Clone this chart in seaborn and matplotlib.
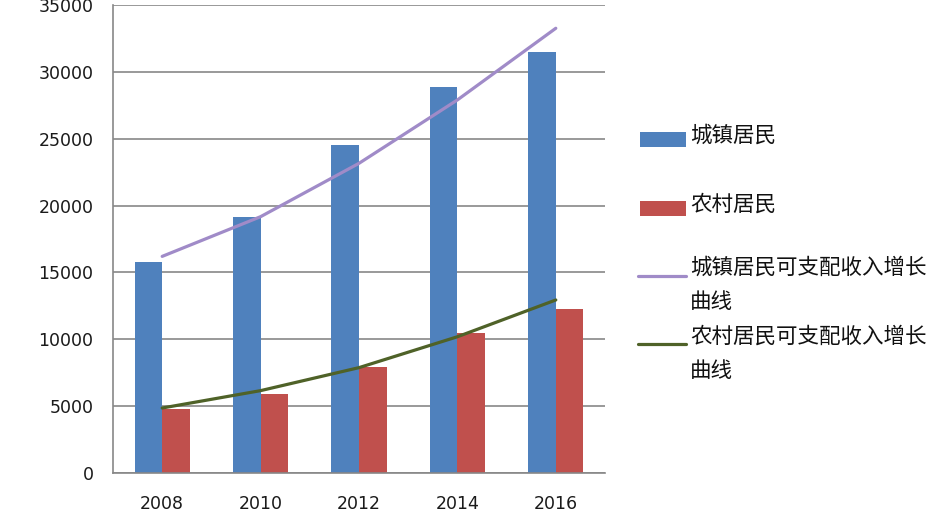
import matplotlib
matplotlib.use("Agg")
import matplotlib.pyplot as plt
import seaborn as sns
import pandas as pd
import numpy as np
from matplotlib.patches import Rectangle
from matplotlib.lines import Line2D

years = ['2008', '2010', '2012', '2014', '2016']
urban = [15781, 19109, 24565, 28844, 31500]
rural = [4761, 5919, 7917, 10489, 12300]
urban_trend = [16200, 19170, 23160, 27900, 33260]
rural_trend = [4860, 6160, 7880, 10190, 12940]
series_names = ['城镇居民', '农村居民']
trend_names = ['城镇居民可支配收入增长\n曲线', '农村居民可支配收入增长\n曲线']
yticks = [0, 5000, 10000, 15000, 20000, 25000, 30000, 35000]

bar_colors = ['#4F81BD', '#C0504D']
line_colors = ['#A08BC8', '#4F6228']

sns.set_style("white")
plt.rcParams['font.family'] = ['DejaVu Sans', 'Noto Sans CJK SC']

df = pd.DataFrame({
    'year': years * 2,
    'value': urban + rural,
    'series': [series_names[0]] * len(years) + [series_names[1]] * len(years),
})

W, H = 926, 515
fig = plt.figure(figsize=(W / 100, H / 100), dpi=100)
ax = fig.add_axes([113 / W, 1 - 473 / H, (605 - 113) / W, (473 - 5) / H])

sns.barplot(data=df, x='year', y='value', hue='series', order=years,
            hue_order=series_names, palette=bar_colors, width=0.56,
            gap=0, ax=ax, legend=False, saturation=1, linewidth=0)

xs = np.arange(len(years))
sns.lineplot(x=xs, y=urban_trend, color=line_colors[0], lw=2.3, ax=ax)
sns.lineplot(x=xs, y=rural_trend, color=line_colors[1], lw=2.3, ax=ax)

ax.set_xlim(-0.5, len(years) - 0.5)
ax.set_ylim(0, 35000)
ax.set_yticks(yticks)
ax.set_yticklabels([str(v) for v in yticks])
ax.set_xlabel('')
ax.set_ylabel('')

ax.yaxis.grid(True, color='#878787', lw=1.2)
ax.set_axisbelow(True)
for s in ['top', 'right']:
    ax.spines[s].set_visible(False)
for s in ['left', 'bottom']:
    ax.spines[s].set_color('#878787')
    ax.spines[s].set_linewidth(1.2)

ax.tick_params(axis='y', length=5, width=1.2, color='#878787', pad=9,
               labelsize=12.5, labelcolor='#1a1a1a')
ax.tick_params(axis='x', which='major', length=0, pad=16,
               labelsize=12.5, labelcolor='#1a1a1a')
ax.set_xticks(np.arange(-0.5, len(years), 1.0), minor=True)
ax.tick_params(axis='x', which='minor', length=6, width=1.2, color='#878787')

# legend drawn at figure level
cjk = ['Noto Sans CJK SC', 'DejaVu Sans']
fs = 15.5
def fy(p):
    return 1 - p / H

for name, col, yc, ty in zip(series_names, bar_colors, [139.5, 208], [136, 205]):
    fig.patches.append(Rectangle((640 / W, fy(yc + 7.5)), 46 / W, 15 / H,
                                 transform=fig.transFigure, color=col, lw=0))
    fig.text(690 / W, fy(ty), name, fontsize=fs, family=cjk,
             va='center', ha='left', color='#111111')

for name, col, yl, ty in zip(trend_names, line_colors, [275.5, 344], [268, 337]):
    fig.lines.append(Line2D([638 / W, 686 / W], [fy(yl), fy(yl)],
                            transform=fig.transFigure, color=col, lw=2.3))
    first, second = name.split('\n')
    fig.text(690 / W, fy(ty), first, fontsize=fs, family=cjk,
             va='center', ha='left', color='#111111')
    fig.text(690 / W, fy(ty + 34), second, fontsize=fs, family=cjk,
             va='center', ha='left', color='#111111')

fig.savefig('out.png', dpi=100)
